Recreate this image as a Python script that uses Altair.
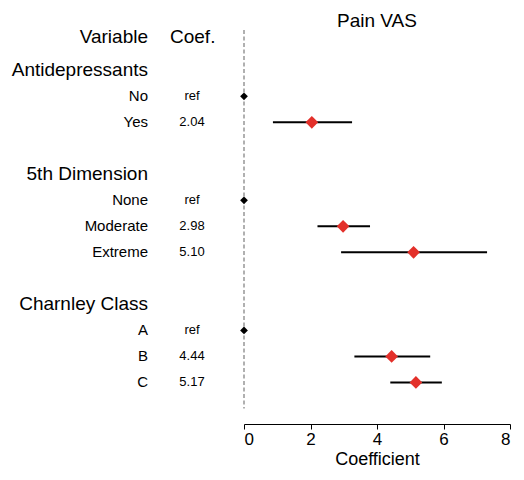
import altair as alt
import pandas as pd

# ---- data ----
groups = ["Antidepressants", "5th Dimension", "Charnley Class"]
group_levels = [["No", "Yes"], ["None", "Moderate", "Extreme"], ["A", "B", "C"]]
coef = [0.0, 2.04, 0.0, 2.98, 5.10, 0.0, 4.44, 5.17]
lower = [None, 0.87, None, 2.21, 2.92, None, 3.32, 4.40]
upper = [None, 3.25, None, 3.79, 7.31, None, 5.60, 5.95]
coef_text = ["ref", "2.04", "ref", "2.98", "5.10", "ref", "4.44", "5.17"]
x_ticks = [0, 2, 4, 6, 8]

# ---- build tables (row index from structure: header, levels, blank) ----
grp_rows, lvl_rows = [], []
row = 1
k = 0
for g, levs in zip(groups, group_levels):
    grp_rows.append({"label": g, "row": row})
    row += 1
    for lv in levs:
        lvl_rows.append({"label": lv, "row": row, "coef": coef[k],
                         "lo": lower[k], "hi": upper[k], "ctext": coef_text[k],
                         "ref": coef_text[k] == "ref"})
        row += 1
        k += 1
    row += 1

gdf = pd.DataFrame(grp_rows)
ldf = pd.DataFrame(lvl_rows)
hdf = pd.DataFrame([{"row": -0.3, "v": "Variable", "c": "Coef."}])
zdf = pd.DataFrame([{"x": 0, "y": -0.55, "y2": 14.0}])

FONT = "Liberation Sans"
yscale = alt.Scale(domain=[-0.55, 14.6], reverse=True, nice=False, zero=False)
xscale = alt.Scale(domain=[0, 8], nice=False, zero=False)
Y = lambda f: alt.Y(f"{f}:Q", scale=yscale, axis=None)

zero_line = alt.Chart(zdf).mark_rule(color="#b0b0b0", strokeWidth=2, strokeDash=[4, 2.5]).encode(
    x=alt.X("x:Q", scale=xscale,
            axis=alt.Axis(values=x_ticks, title="Coefficient", grid=False,
                          domainColor="black", tickColor="black", tickSize=5,
                          labelColor="black", labelFontSize=17, labelFont=FONT,
                          titleFont=FONT, titleFontSize=18, titleFontWeight="normal",
                          titleColor="black", titlePadding=3, labelPadding=2)),
    y=Y("y"), y2="y2:Q")

ci = alt.Chart(ldf).transform_filter("datum.lo != null").mark_rule(
    color="black", strokeWidth=2).encode(
    x=alt.X("lo:Q", scale=xscale), x2="hi:Q", y=Y("row"))

pts_est = alt.Chart(ldf).transform_filter("!datum.ref").mark_point(
    shape="diamond", filled=True, size=160, color="#e3302a", opacity=1).encode(
    x=alt.X("coef:Q", scale=xscale), y=Y("row"))

pts_ref = alt.Chart(ldf).transform_filter("datum.ref").mark_point(
    shape="diamond", filled=True, size=60, color="black", opacity=1).encode(
    x=alt.X("coef:Q", scale=xscale), y=Y("row"))

grp_text = alt.Chart(gdf).mark_text(align="right", baseline="middle", font=FONT,
                                    fontSize=19, color="black").encode(
    x=alt.value(-96), y=Y("row"), text="label:N")

lvl_text = alt.Chart(ldf).mark_text(align="right", baseline="middle", font=FONT,
                                    fontSize=15, color="black").encode(
    x=alt.value(-96), y=Y("row"), text="label:N")

coef_col = alt.Chart(ldf).mark_text(align="center", baseline="middle", font=FONT,
                                    fontSize=13, color="black").encode(
    x=alt.value(-52), y=Y("row"), text="ctext:N")

hdr_v = alt.Chart(hdf).mark_text(align="right", baseline="middle", font=FONT,
                                 fontSize=19, color="black").encode(
    x=alt.value(-96), y=Y("row"), text="v:N")
hdr_c = alt.Chart(hdf).mark_text(align="left", baseline="middle", font=FONT,
                                 fontSize=19, color="black").encode(
    x=alt.value(-74), y=Y("row"), text="c:N")

chart = alt.layer(zero_line, ci, pts_est, pts_ref, grp_text, lvl_text, coef_col,
                  hdr_v, hdr_c).properties(
    width=266, height=394,
    title=alt.TitleParams("Pain VAS", font=FONT, fontSize=19, fontWeight="normal",
                          color="black", offset=-3),
    autosize=alt.AutoSizeParams(type="none"),
    padding={"left": 236, "top": 22, "right": 6, "bottom": 46},
    background="white",
).configure_view(stroke="transparent", strokeWidth=0)

chart.save("out.html", embed_options={"renderer": "svg", "actions": False})
